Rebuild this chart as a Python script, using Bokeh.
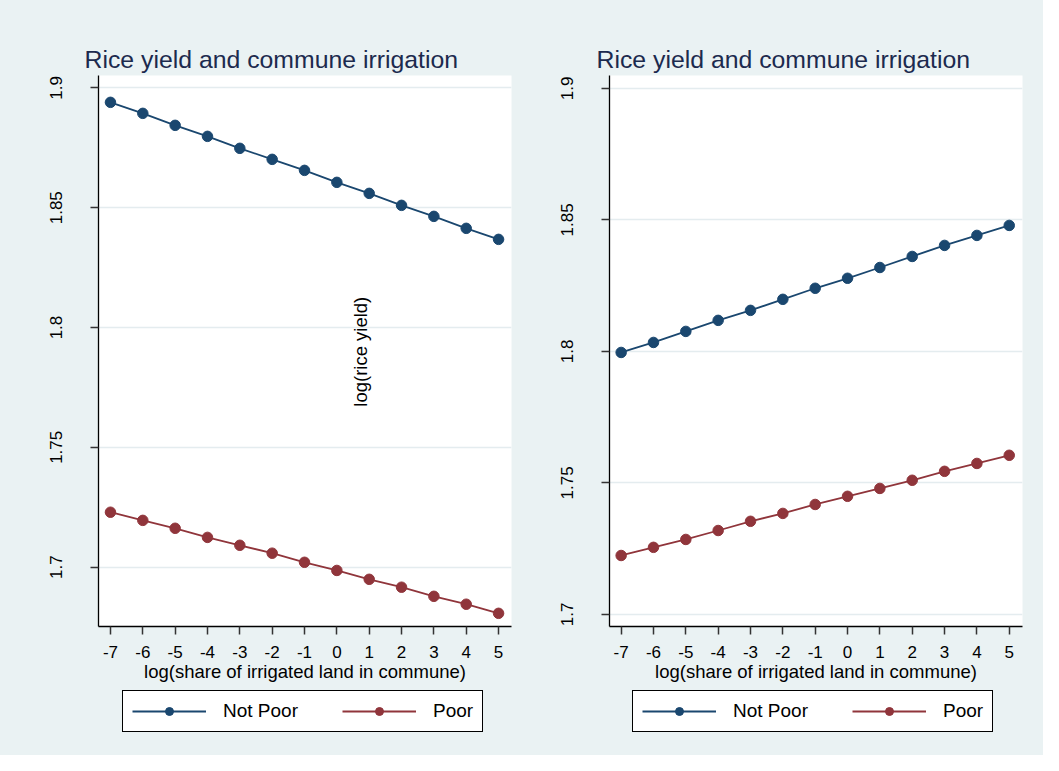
from math import pi
from bokeh.plotting import figure
from bokeh.models import Range1d, FixedTicker, Legend, LegendItem, Label
from bokeh.layouts import row, column
from bokeh.embed import file_html
from bokeh.resources import INLINE

# ---- data ----
x_vals = [-7, -6, -5, -4, -3, -2, -1, 0, 1, 2, 3, 4, 5]
left_not_poor = [1.8940, 1.8894, 1.8844, 1.8798, 1.8748, 1.8702, 1.8656,
                 1.8606, 1.8560, 1.8510, 1.8464, 1.8414, 1.8368]
left_poor = [1.7229, 1.7195, 1.7162, 1.7124, 1.7091, 1.7058, 1.7020,
             1.6986, 1.6949, 1.6916, 1.6878, 1.6845, 1.6807]
right_not_poor = [1.7996, 1.8034, 1.8076, 1.8118, 1.8156, 1.8198, 1.8240,
                  1.8278, 1.8319, 1.8361, 1.8403, 1.8441, 1.8479]
right_poor = [1.7224, 1.7255, 1.7285, 1.7319, 1.7354, 1.7384, 1.7418,
              1.7449, 1.7479, 1.7510, 1.7544, 1.7574, 1.7605]
series_names = ["Not Poor", "Poor"]
y_ticks = [1.7, 1.75, 1.8, 1.85, 1.9]
y_tick_labels = ["1.7", "1.75", "1.8", "1.85", "1.9"]
x_tick_labels = ["-7", "-6", "-5", "-4", "-3", "-2", "-1", "0", "1", "2", "3", "4", "5"]
title_text = "Rice yield and commune irrigation"
x_axis_title = "log(share of irrigated land in commune)"
y_axis_title = "log(rice yield)"

# ---- style ----
FONT = "Liberation Sans"
BG = "#EAF2F3"
GRID = "#E4ECEF"
NAVY = "#1A476F"
MAROON = "#90353B"
TITLE_COLOR = "#1C2A4E"
MAIN_H = 688
LEG_H = 67


def make_panel(width, yrange, xrange, border_left, border_right, np_vals, p_vals,
               title_offset, ylab=False):
    p = figure(width=width, height=MAIN_H, output_backend="svg", toolbar_location=None,
               x_range=Range1d(*xrange), y_range=Range1d(*yrange),
               min_border_left=border_left, min_border_right=border_right,
               min_border_top=75, min_border_bottom=MAIN_H - 626)
    p.border_fill_color = BG
    p.background_fill_color = "white"
    p.outline_line_color = None

    p.title.text = title_text
    p.title.text_font = FONT
    p.title.text_font_size = "24.8px"
    p.title.text_font_style = "normal"
    p.title.text_color = TITLE_COLOR
    p.title.align = "left"
    p.title.offset = title_offset
    p.title.standoff = 6

    xa = p.xaxis[0]
    xa.ticker = FixedTicker(ticks=x_vals)
    xa.major_label_overrides = {v: s for v, s in zip(x_vals, x_tick_labels)}
    xa.axis_label = x_axis_title
    xa.axis_label_text_font = FONT
    xa.axis_label_text_font_size = "18.5px"
    xa.axis_label_text_font_style = "normal"
    xa.axis_label_text_color = "black"
    xa.axis_label_standoff = 0
    xa.major_label_text_font = FONT
    xa.major_label_text_font_size = "17px"
    xa.major_label_text_color = "black"
    xa.major_label_standoff = 11
    xa.major_tick_out = 8
    xa.major_tick_in = 0
    xa.minor_tick_out = 0
    xa.minor_tick_in = 0
    xa.major_tick_line_color = "#333333"
    xa.major_tick_line_width = 1.5
    xa.axis_line_color = "black"
    xa.axis_line_width = 1.3

    ya = p.yaxis[0]
    ya.ticker = FixedTicker(ticks=y_ticks)
    ya.major_label_overrides = {v: s for v, s in zip(y_ticks, y_tick_labels)}
    ya.major_label_orientation = "vertical"
    ya.major_label_text_font = FONT
    ya.major_label_text_font_size = "17px"
    ya.major_label_text_color = "black"
    ya.major_label_standoff = 28
    ya.major_tick_out = 8
    ya.major_tick_in = 0
    ya.minor_tick_out = 0
    ya.minor_tick_in = 0
    ya.major_tick_line_color = "#333333"
    ya.major_tick_line_width = 1.5
    ya.axis_line_color = "black"
    ya.axis_line_width = 1.3

    p.xgrid.grid_line_color = None
    p.ygrid.ticker = FixedTicker(ticks=y_ticks)
    p.ygrid.grid_line_color = GRID
    p.ygrid.grid_line_width = 1.5

    p.line(x_vals, np_vals, line_color=NAVY, line_width=1.8)
    p.scatter(x_vals, np_vals, size=10.5, fill_color=NAVY, line_color=NAVY)
    p.line(x_vals, p_vals, line_color=MAROON, line_width=1.8)
    p.scatter(x_vals, p_vals, size=10.5, fill_color=MAROON, line_color=MAROON)

    if ylab:
        p.add_layout(Label(x=0.73, y=1.7899, text=y_axis_title, angle=pi / 2,
                           text_align="center", text_baseline="middle",
                           text_font=FONT, text_font_size="18.5px", text_color="black"))
    return p


def make_legend(width, border_left, border_right, legend_x, np_vals, p_vals):
    # legend strip below a panel; its ranges keep the series out of view so only the legend shows
    q = figure(width=width, height=LEG_H, output_backend="svg", toolbar_location=None,
               x_range=Range1d(100, 101), y_range=Range1d(100, 101),
               min_border_left=border_left, min_border_right=border_right,
               min_border_top=0, min_border_bottom=0)
    q.border_fill_color = BG
    q.background_fill_color = BG
    q.outline_line_color = None
    q.axis.visible = False
    q.grid.visible = False
    l1 = q.line(x_vals, np_vals, line_color=NAVY, line_width=1.8)
    s1 = q.scatter(x_vals, np_vals, size=10.5, fill_color=NAVY, line_color=NAVY)
    l2 = q.line(x_vals, p_vals, line_color=MAROON, line_width=1.8)
    s2 = q.scatter(x_vals, p_vals, size=10.5, fill_color=MAROON, line_color=MAROON)
    legend = Legend(items=[LegendItem(label=series_names[0], renderers=[l1, s1]),
                           LegendItem(label=series_names[1], renderers=[l2, s2])],
                    orientation="horizontal", location=(legend_x, 23),
                    glyph_width=74, glyph_height=20, label_standoff=17, spacing=44,
                    padding=9, margin=0, border_line_color="black", border_line_width=1.3,
                    border_line_alpha=1,
                    background_fill_color="white", background_fill_alpha=1,
                    label_text_font=FONT, label_text_font_size="19px", label_text_color="black")
    q.add_layout(legend)
    return q


p1 = make_panel(530, (1.6752, 1.9052), (-7.37, 5.40), 98, 19, left_not_poor, left_poor, -14, ylab=True)
p2 = make_panel(513, (1.6954, 1.9049), (-7.36, 5.41), 79, 21, right_not_poor, right_poor, -13)
g1 = make_legend(530, 98, 19, 24, left_not_poor, left_poor)
g2 = make_legend(513, 79, 21, 23, right_not_poor, right_poor)

layout = row(column(p1, g1, styles={"background-color": BG}),
             column(p2, g2, styles={"background-color": BG}),
             styles={"background-color": BG})
open("out.html", "w").write(file_html(layout, INLINE))
